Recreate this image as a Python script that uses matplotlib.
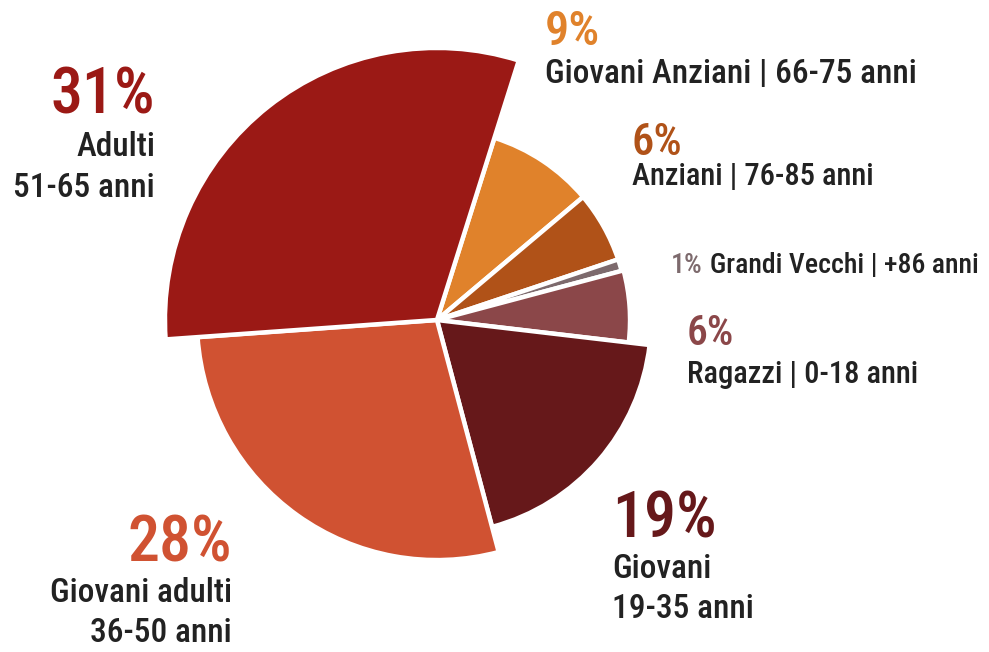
import matplotlib
matplotlib.use("Agg")
import matplotlib.pyplot as plt
from matplotlib import font_manager

# -------------------------------------------------------
# dati
# -------------------------------------------------------
quote = [9, 6, 1, 6, 19, 28, 31]
percentuali = ["9%", "6%", "1%", "6%", "19%", "28%", "31%"]
gruppi = ["Giovani Anziani | 66-75 anni", "Anziani | 76-85 anni",
          "Grandi Vecchi | +86 anni", "Ragazzi | 0-18 anni",
          "Giovani\n19-35 anni", "Giovani adulti\n36-50 anni",
          "Adulti\n51-65 anni"]
colori = ["#E0822B", "#B05218", "#7D6A6D", "#8B4749",
          "#66181A", "#D05232", "#9B1915"]

# raggio di ogni spicchio (px) e spostamento verso l'esterno
raggi = [191, 191, 191, 193, 214, 240, 272]
explode_px = [3, 3, 3, 3, 6, 6, 6]

W, H = 989, 652
CX, CY = 437, 320


def primo_font(candidati):
    for nome in candidati:
        try:
            font_manager.findfont(nome, fallback_to_default=False)
            return nome
        except Exception:
            pass
    return "DejaVu Sans"


font = primo_font(["Roboto Condensed", "Archivo Narrow",
                   "Liberation Sans Narrow", "Roboto"])
plt.rcParams["font.family"] = [font, "DejaVu Sans"]

fig = plt.figure(figsize=(W / 100, H / 100), dpi=100)
ax = fig.add_axes([0, 0, 1, 1])

base_r = 100
wedges, _ = ax.pie(quote, colors=colori, startangle=72.5, counterclock=False,
                   center=(CX, H - CY), radius=base_r,
                   explode=[e / base_r for e in explode_px],
                   wedgeprops=dict(edgecolor="white", linewidth=3.2),
                   frame=True)
for w, r in zip(wedges, raggi):
    w.set_radius(r)

ax.set_xlim(0, W)
ax.set_ylim(0, H)
ax.set_aspect("equal")
ax.axis("off")

TXT = "#222222"


def testo(x, y, s, size, color=TXT, ha="left"):
    ax.text(x, H - y, s, fontsize=size, color=color, ha=ha, va="baseline",
            fontweight="medium")


# 31% Adulti
testo(155, 113, percentuali[6], 46, colori[6], "right")
testo(155, 156, "Adulti", 24, ha="right")
testo(155, 197, "51-65 anni", 24, ha="right")

# 9% Giovani Anziani
testo(545, 45, percentuali[0], 35, colori[0])
testo(545, 83, gruppi[0], 24)

# 6% Anziani
testo(632, 155, percentuali[1], 32, colori[1])
testo(632, 185, gruppi[1], 22)

# 1% Grandi Vecchi
testo(671, 273, percentuali[2], 20, colori[2])
testo(710, 273, gruppi[2], 20)

# 6% Ragazzi
testo(687, 345, percentuali[3], 30, colori[3])
testo(687, 383, gruppi[3], 22)

# 19% Giovani
testo(612, 537, percentuali[4], 46, colori[4])
testo(612, 578, "Giovani", 24)
testo(612, 618, "19-35 anni", 24)

# 28% Giovani adulti
testo(232, 562, percentuali[5], 46, colori[5], "right")
testo(232, 602, "Giovani adulti", 24, ha="right")
testo(232, 642, "36-50 anni", 24, ha="right")

fig.savefig("out.png", dpi=100, facecolor="white")
